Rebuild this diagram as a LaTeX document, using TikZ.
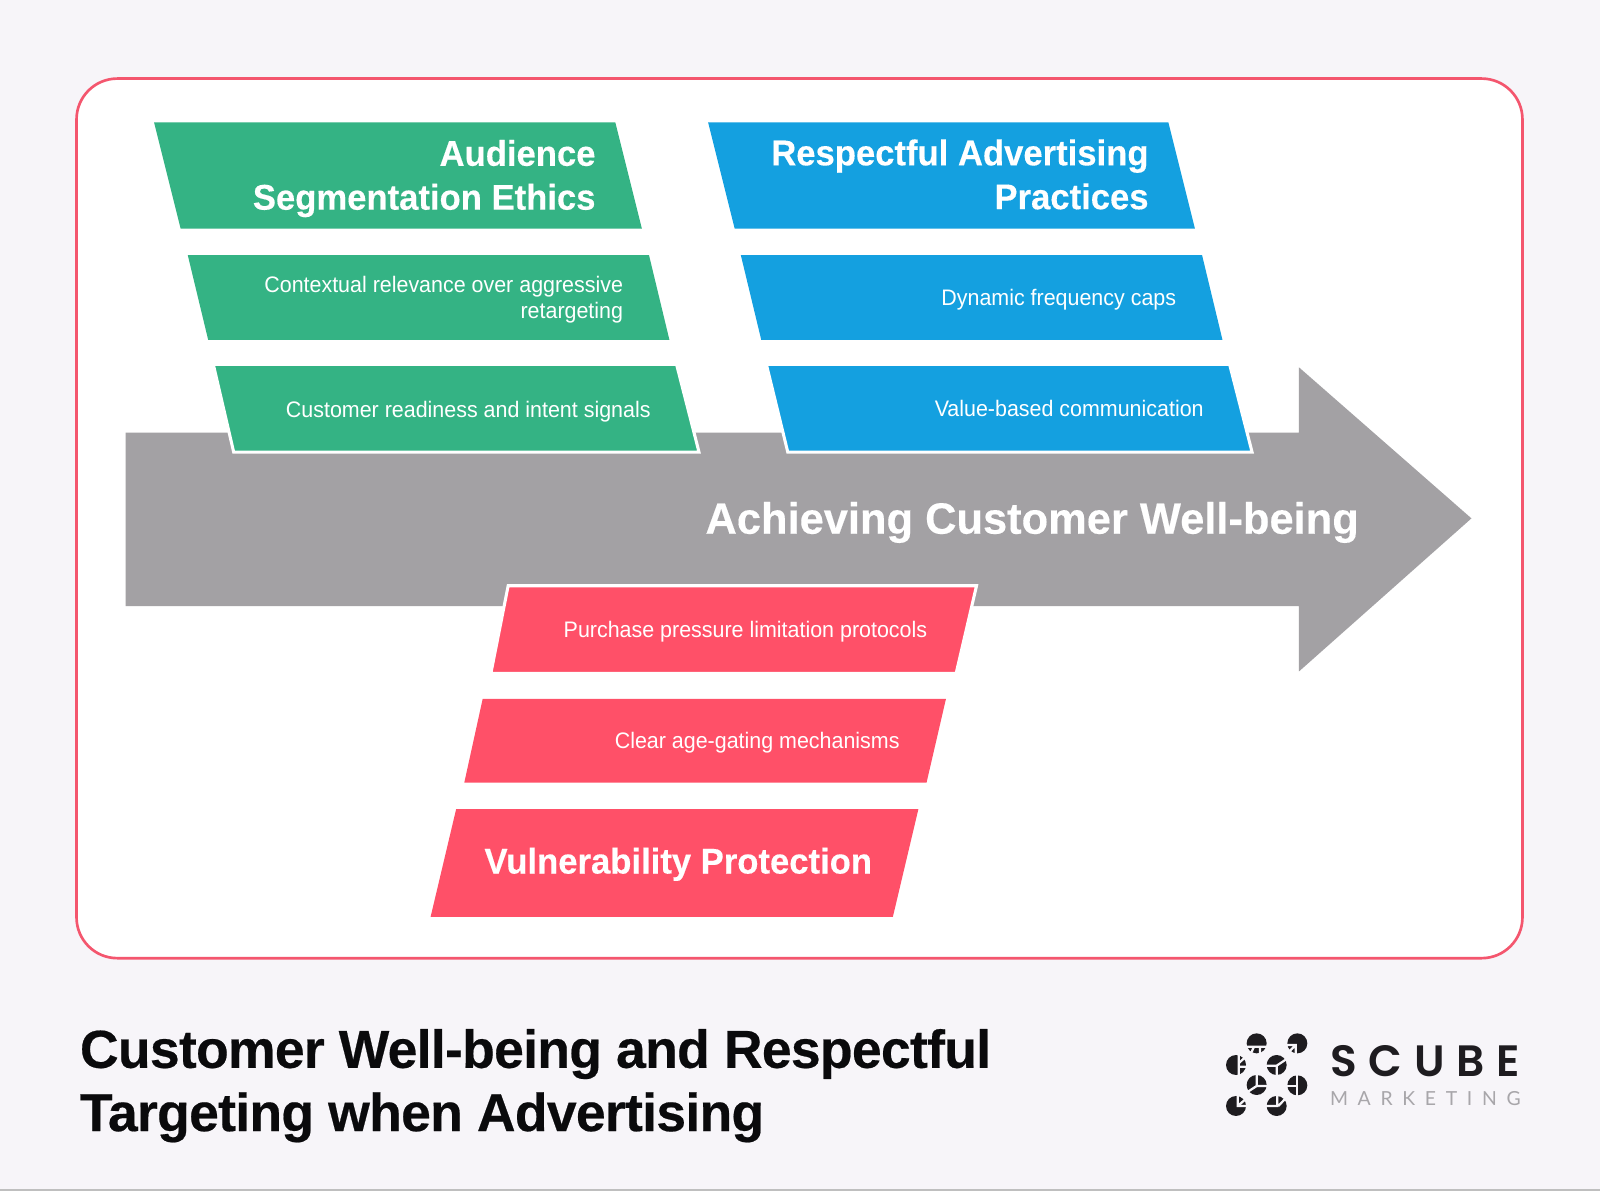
\documentclass[tikz,border=0pt]{standalone}
\usepackage{fontspec}
\setmainfont{Liberation Sans}
\newfontfamily\bodyf[FakeStretch=0.955]{Liberation Sans}
\newfontfamily\headf[FakeStretch=0.97,BoldFont={Liberation Sans Bold},BoldFeatures={FakeBold=0.3}]{Liberation Sans}
\newfontfamily\bigf[FakeStretch=0.99,BoldFont={Liberation Sans Bold},BoldFeatures={FakeBold=0.3}]{Liberation Sans}
\newfontfamily\titlef[LetterSpace=-1.3,BoldFont={Liberation Sans Bold},BoldFeatures={FakeBold=0.4}]{Liberation Sans}
\newfontfamily\logof[LetterSpace=27,BoldFont={Poppins SemiBold}]{Poppins}
\newfontfamily\logog[LetterSpace=50]{Lato}
\definecolor{pagebg}{HTML}{F7F5F9}
\definecolor{cardline}{HTML}{F4566E}
\definecolor{grayarrow}{HTML}{A3A1A4}
\definecolor{gr}{HTML}{34B384}
\definecolor{bl}{HTML}{14A0E0}
\definecolor{rd}{HTML}{FF5068}
\definecolor{ink}{HTML}{0A0A0C}
\definecolor{logok}{HTML}{1E1C20}
\definecolor{logogr}{HTML}{A8A6AA}
\tikzset{
  hd/.style={text=white,font=\headf\bfseries\fontsize{17.5}{21.5}\selectfont,align=right,anchor=east,inner sep=0},
  it/.style={text=white,font=\bodyf\fontsize{11}{12.7}\selectfont,align=right,anchor=east,inner sep=0},
  cut/.style={draw=pagebg,line width=1.1pt},
  edged/.style={draw=white,line width=1.5pt}
}
% x, y, white cut segments relative to the disc centre
\newcommand{\logopie}[3]{%
  \begin{scope}[shift={(#1,#2)}]
  \fill[logok] (0,0) circle (30);
  \draw[cut] #3;
  \end{scope}
}
\begin{document}
\begin{tikzpicture}[x=0.5pt,y=-0.5pt]
\useasboundingbox (0,0) rectangle (1568,1167.2);
\fill[pagebg] (0,0) rectangle (1568,1167.2);
\fill[black!25] (0,1165.4) rectangle (1568,1167.2);
\draw[cardline,fill=white,line width=1.3pt,rounded corners=20pt] (75,77) rectangle (1492,939);
\fill[grayarrow] (123,424) -- (1273,424) -- (1273,360) -- (1442,508) -- (1273,658) -- (1273,594) -- (123,594) -- cycle;
% green
\fill[gr] (151,120) -- (603,120) -- (629,224) -- (177,224) -- cycle;
\fill[gr] (184,250) -- (636,250) -- (656,333) -- (204,333) -- cycle;
\draw[edged,fill=gr] (209,357) -- (663,357) -- (685,443) -- (229,443) -- cycle;
% blue
\fill[bl] (694,120) -- (1145,120) -- (1171,224) -- (720,224) -- cycle;
\fill[bl] (726,250) -- (1178,250) -- (1198,333) -- (746,333) -- cycle;
\draw[edged,fill=bl] (751,357) -- (1205,357) -- (1227,443) -- (772,443) -- cycle;
% red
\draw[edged,fill=rd] (498,574) -- (957,574) -- (937,660) -- (481,660) -- cycle;
\fill[rd] (473,685) -- (927,685) -- (908,767) -- (455,767) -- cycle;
\fill[rd] (447,793) -- (900,793) -- (875,898.5) -- (422,898.5) -- cycle;
% texts
\node[hd] (n1) at (584,175) {Audience\\Segmentation Ethics};
\node[it] (n2) at (611,294) {Contextual relevance over aggressive\\retargeting};
\node[it] (n3) at (638,403) {Customer readiness and intent signals};
\node[hd] (n4) at (1126,171) {Respectful Advertising\\Practices};
\node[it] (n5) at (1153,294) {Dynamic frequency caps};
\node[it] (n6) at (1180,400) {Value-based communication};
\node[hd,font=\bigf\bfseries\fontsize{21.5}{26}\selectfont] (n7) at (1332,512) {Achieving Customer Well-being};
\node[it] (n8) at (909,619) {Purchase pressure limitation protocols};
\node[it] (n9) at (882,728) {Clear age-gating mechanisms};
\node[hd] (n10) at (855,847) {Vulnerability Protection};
\node[anchor=west,inner sep=0,align=left,text=ink,font=\titlef\bfseries\fontsize{26.2}{31}\selectfont] (t) at (78,1064) {Customer Well-being and Respectful\\Targeting when Advertising};
% logo
\begin{scope}[shift={(1176,989.8)},x=0.1633pt,y=-0.1633pt]
\logopie{170}{100}{(-32,10) -- (32,10) (-8,10) -- (-18,32) (10,10) -- (10,32)}
\logopie{292}{100}{(-32,5) -- (-5,5) -- (-5,32) (-5,5) -- (-28,28)}
\logopie{108}{165}{(8,-32) -- (8,32) (8,5) -- (32,5) (8,-5) -- (28,-24)}
\logopie{230}{165}{(-32,2) -- (0,2) -- (0,32) (0,2) -- (30,-18)}
\logopie{170}{225}{(0,-32) -- (0,3) -- (32,3) (0,3) -- (-26,20)}
\logopie{292}{226}{(-2,-32) -- (-2,32) (-32,2) -- (-2,2)}
\logopie{108}{288}{(5,-32) -- (5,0) -- (32,0) (5,0) -- (26,-18)}
\logopie{230}{288}{(-32,0) -- (5,0) (2,-32) -- (2,0) (5,0) -- (26,-22)}
\end{scope}
\node[anchor=west,inner sep=0,text=logok,font=\logof\bfseries\fontsize{21.5}{22}\selectfont] (s) at (1303,1040) {SCUBE};
\node[anchor=west,inner sep=0,text=logogr,font=\logog\fontsize{9.5}{10}\selectfont] (m) at (1303,1077) {MARKETING};
\end{tikzpicture}
\end{document}
